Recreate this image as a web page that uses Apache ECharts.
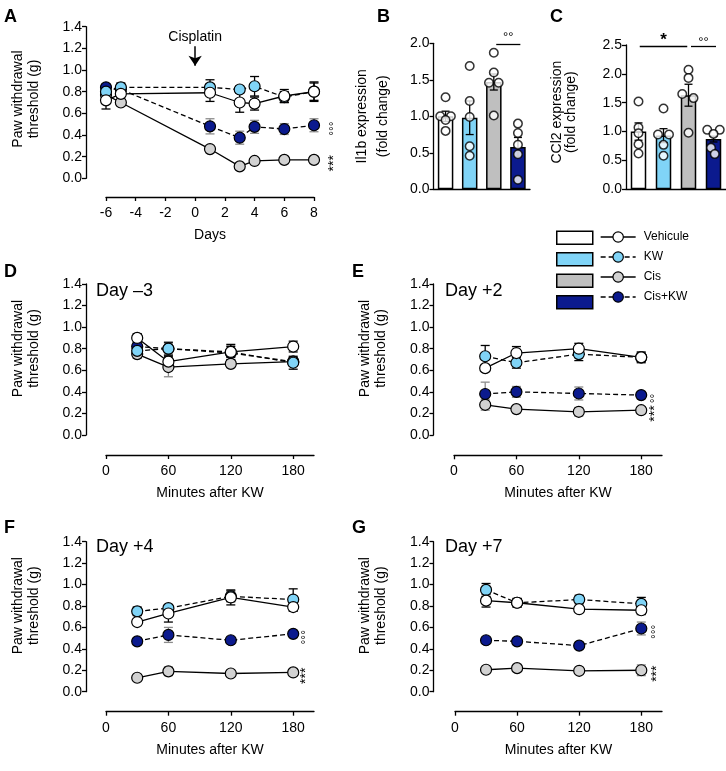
<!DOCTYPE html>
<html><head><meta charset="utf-8">
<script src="https://cdn.jsdelivr.net/npm/echarts@6/dist/echarts.min.js"></script>
<style>html,body{margin:0;padding:0;background:#fff}#c{width:726px;height:771px}</style>
</head><body><div id="c"></div>
<script>
const FONT = "'Liberation Sans', Arial, Helvetica, sans-serif";
const groups = ['Vehicule', 'KW', 'Cis', 'Cis+KW'];

// ---------- Panel A : time course (days) ----------
const daysA = [-6, -5, 1, 3, 4, 6, 8];
const aVehicule    = [0.72, 0.78, 0.79, 0.70, 0.69, 0.76, 0.80];
const aVehiculeSem = [0.08, 0.08, 0.08, 0.09, 0.06, 0.06, 0.09];
const aKW          = [0.80, 0.84, 0.84, 0.82, 0.85, 0.75, 0.80];
const aKWSem       = [0.04, 0.04, 0.07, 0.03, 0.09, 0.05, 0.08];
const aCis         = [0.77, 0.70, 0.27, 0.11, 0.16, 0.17, 0.17];
const aCisSem      = [0.03, 0.03, 0.02, 0.02, 0.02, 0.02, 0.03];
const aCisKW       = [0.84, 0.82, 0.48, 0.375, 0.475, 0.455, 0.49];
const aCisKWSem    = [0.03, 0.03, 0.07, 0.06, 0.06, 0.05, 0.06];
const cisplatinDay = 0;
const cisplatinArrow = [1.22, 1.04];

// ---------- Panel B : Il1b ----------
const bMeans = [1.00, 0.98, 1.47, 0.58];
const bSem   = [0.07, 0.23, 0.11, 0.13];
const bVehiculeDots = [1.26, 1.00, 1.00, 0.95, 0.80];
const bKWDots       = [1.69, 1.21, 0.99, 0.59, 0.46];
const bCisDots      = [1.87, 1.60, 1.46, 1.46, 1.01];
const bCisKWDots    = [0.90, 0.77, 0.61, 0.48, 0.13];
const bVehiculeJit  = [0, -0.22, 0.22, 0, 0];
const bKWJit        = [0, 0, 0, 0, 0];
const bCisJit       = [0, 0, -0.2, 0.2, 0];
const bCisKWJit     = [0, 0, 0, 0, 0];
const bSigStart = [2.1], bSigEnd = [3.1], bSigLevel = [1.99], bSigText = ['°°'];

// ---------- Panel C : Ccl2 ----------
const cMeans = [1.00, 0.93, 1.63, 0.87];
const cSem   = [0.15, 0.12, 0.19, 0.05];
const cVehiculeDots = [1.52, 1.07, 0.97, 0.78, 0.62];
const cKWDots       = [1.40, 0.95, 0.95, 0.77, 0.58];
const cCisDots      = [2.07, 1.93, 1.65, 1.58, 0.98];
const cCisKWDots    = [1.03, 1.03, 0.96, 0.72, 0.61];
const cVehiculeJit  = [0, 0, 0, 0, 0];
const cKWJit        = [0, -0.22, 0.22, 0, 0];
const cCisJit       = [0, 0, -0.25, 0.2, 0];
const cCisKWJit     = [-0.25, 0.25, 0, -0.1, 0.05];
const cSigStart = [0.05, 2.1], cSigEnd = [1.95, 3.1], cSigLevel = [2.48, 2.48], cSigText = ['*', '°°'];

// ---------- Panels D-G : minutes after KW ----------
const minutesKW = [30, 60, 120, 180];
const xTicksMin = [0, 60, 120, 180];
const dVehicule = [0.90, 0.68, 0.77, 0.82], dVehiculeSem = [0.04, 0.05, 0.07, 0.05];
const dKW       = [0.78, 0.80, 0.77, 0.67], dKWSem       = [0.04, 0.06, 0.05, 0.06];
const dCis      = [0.75, 0.63, 0.66, 0.68], dCisSem      = [0.04, 0.09, 0.03, 0.04];
const dCisKW    = [0.82, 0.80, 0.76, 0.68], dCisKWSem    = [0.03, 0.05, 0.07, 0.04];

const eVehicule = [0.62, 0.76, 0.80, 0.72], eVehiculeSem = [0.03, 0.06, 0.05, 0.05];
const eKW       = [0.73, 0.67, 0.75, 0.72], eKWSem       = [0.10, 0.05, 0.06, 0.04];
const eCis      = [0.28, 0.24, 0.215, 0.23], eCisSem     = [0.05, 0.02, 0.04, 0.03];
const eCisKW    = [0.38, 0.40, 0.385, 0.37], eCisKWSem   = [0.11, 0.05, 0.06, 0.02];

const fVehicule = [0.65, 0.73, 0.88, 0.79], fVehiculeSem = [0.03, 0.08, 0.07, 0.04];
const fKW       = [0.75, 0.78, 0.89, 0.86], fKWSem       = [0.04, 0.03, 0.05, 0.10];
const fCis      = [0.13, 0.19, 0.17, 0.18], fCisSem      = [0.02, 0.04, 0.02, 0.02];
const fCisKW    = [0.47, 0.53, 0.48, 0.54], fCisKWSem    = [0.02, 0.07, 0.02, 0.02];

const gVehicule = [0.85, 0.83, 0.77, 0.76], gVehiculeSem = [0.06, 0.04, 0.02, 0.04];
const gKW       = [0.95, 0.83, 0.86, 0.82], gKWSem       = [0.06, 0.04, 0.04, 0.06];
const gCis      = [0.205, 0.22, 0.195, 0.20], gCisSem    = [0.02, 0.02, 0.02, 0.05];
const gCisKW    = [0.48, 0.47, 0.43, 0.59], gCisKWSem    = [0.02, 0.02, 0.02, 0.06];

// ---------- styles ----------
const barColors   = ['#ffffff', '#80d4f7', '#bfbfbf', '#0b1a8e'];
const pointColors = ['#ffffff', '#80d4f7', '#d2d2d2', '#0b1a8e'];
const errColors   = ['#000000', '#000000', '#8c8c8c', '#8c8c8c'];
const lineTypes   = ['solid', [5, 3], 'solid', [5, 3]];
const axisLineStyle = { color: '#000', width: 1.3 };

const grids = [], xAxes = [], yAxes = [], series = [];

function errRender(color, cap) {
  return function (params, api) {
    const x = api.value(0), y = api.value(1), e = api.value(2);
    const p1 = api.coord([x, y + e]), p2 = api.coord([x, y - e]);
    const st = { stroke: color, lineWidth: 1.3, fill: null };
    return { type: 'group', children: [
      { type: 'line', shape: { x1: p1[0], y1: p1[1], x2: p2[0], y2: p2[1] }, style: st },
      { type: 'line', shape: { x1: p1[0] - cap, y1: p1[1], x2: p1[0] + cap, y2: p1[1] }, style: st },
      { type: 'line', shape: { x1: p2[0] - cap, y1: p2[1], x2: p2[0] + cap, y2: p2[1] }, style: st }
    ] };
  };
}

function yAxisCfg(g, max, interval, name, gap, lh, pad, offset) {
  return { gridIndex: g, type: 'value', min: 0, max: max, interval: interval, offset: offset,
    axisLine: { show: true, onZero: false, lineStyle: axisLineStyle },
    axisTick: { show: true, length: 4, lineStyle: axisLineStyle },
    axisLabel: { fontSize: 14, color: '#000', margin: 4, fontFamily: FONT, formatter: v => v.toFixed(1) },
    splitLine: { show: false },
    name: name, nameLocation: 'middle', nameRotate: 90, nameGap: gap,
    nameTextStyle: { fontSize: 14, color: '#000', fontFamily: FONT, lineHeight: lh, padding: [0, 0, 0, pad] } };
}

function timeXAxis(g, min, max, ticks, interval, name, offset) {
  const ax = { gridIndex: g, type: 'value', min: min, max: max, offset: offset,
    axisLine: { show: true, onZero: false, lineStyle: axisLineStyle },
    axisTick: { show: true, length: 4, lineStyle: axisLineStyle },
    axisLabel: { fontSize: 14, color: '#000', margin: 9, fontFamily: FONT },
    splitLine: { show: false },
    name: name, nameLocation: 'middle', nameGap: 31,
    nameTextStyle: { fontSize: 14, color: '#000', fontFamily: FONT } };
  if (ticks) { ax.axisTick.customValues = ticks; ax.axisLabel.customValues = ticks; }
  if (interval) ax.interval = interval;
  return ax;
}

function addTimeSeries(g, xs, vals, sems, notes) {
  const order = [3, 2, 1, 0];
  order.forEach(i => {
    series.push({ type: 'line', name: groups[i], xAxisIndex: g, yAxisIndex: g, z: 3, clip: false, silent: true,
      symbol: 'circle', symbolSize: 11, showAllSymbol: true, emphasis: { disabled: true },
      itemStyle: { color: pointColors[i], borderColor: '#000', borderWidth: 1.2 },
      lineStyle: { color: '#000', width: 1.3, type: lineTypes[i] },
      data: xs.map((x, k) => {
        const it = { value: [x, vals[i][k]] };
        if (k === xs.length - 1 && notes[i]) {
          it.label = { show: true, formatter: notes[i].text, position: [notes[i].dx + 10.5, 9.5],
            align: 'center', verticalAlign: 'middle', rotate: 90, fontSize: notes[i].size, color: '#000', fontFamily: FONT };
        }
        return it;
      }) });
  });
  order.forEach(i => {
    series.push({ type: 'custom', name: groups[i], xAxisIndex: g, yAxisIndex: g, z: 2, clip: false, silent: true,
      renderItem: errRender(errColors[i], 4.5), encode: { x: 0, y: 1 },
      data: xs.map((x, k) => [x, vals[i][k], sems[i][k]]) });
  });
}

function addBarPanel(g, vx, means, sems, dots, jit, sig) {
  series.push({ type: 'bar', name: 'bars' + g, xAxisIndex: g, yAxisIndex: g, barWidth: 15.5, z: 2, silent: true,
    itemStyle: { borderColor: '#000', borderWidth: 1.5 },
    data: means.map((v, i) => ({ value: v, itemStyle: { color: barColors[i] } })) });
  series.push({ type: 'custom', name: 'sem' + g, xAxisIndex: vx, yAxisIndex: g, z: 3, silent: true, clip: false,
    renderItem: errRender('#000', 4), encode: { x: 0, y: 1 },
    data: means.map((m, i) => [i, m, sems[i]]) });
  series.push({ type: 'scatter', name: 'dots' + g, xAxisIndex: vx, yAxisIndex: g, z: 4, silent: true,
    symbolSize: 8.5, itemStyle: { color: '#fff', borderColor: '#000', borderWidth: 1.5 },
    data: dots.flatMap((arr, i) => arr.map((v, k) => [i + jit[i][k], v])),
    markLine: { silent: true, symbol: ['none', 'none'], animation: false,
      lineStyle: { color: '#000', width: 1.3, type: 'solid' },
      label: { show: true, position: 'insideMiddleTop', distance: sig.dist, color: '#000', fontSize: 13, fontFamily: FONT },
      data: sig.start.map((s, j) => [
        { coord: [s, sig.level[j]], label: { formatter: sig.text[j], fontSize: sig.text[j] === '*' ? 17 : 13, fontWeight: sig.text[j] === '*' ? 'bold' : 'normal' } },
        { coord: [sig.end[j], sig.level[j]] }]) } });
}

// ---- grid 0: A ----
grids.push({ left: 106, top: 26.7, width: 208, height: 151.6 });
xAxes.push(timeXAxis(0, -6, 8, null, 2, 'Days', 18.7));
yAxes.push(yAxisCfg(0, 1.4, 0.2, 'Paw withdrawal\nthreshold (g)', 44, 16, 7, 20));
// ---- grid 1: B ----
grids.push({ left: 433.5, top: 43.3, width: 96.5, height: 146 });
xAxes.push({ gridIndex: 1, type: 'category', data: groups, axisLine: { show: true, onZero: false, lineStyle: axisLineStyle }, axisTick: { show: false }, axisLabel: { show: false } });
yAxes.push(yAxisCfg(1, 2.0, 0.5, 'Il1b expression\n(fold change)', 39.5, 21, 0, 0));
// ---- grid 2: C ----
grids.push({ left: 626, top: 45, width: 100, height: 144.3 });
xAxes.push({ gridIndex: 2, type: 'category', data: groups, axisLine: { show: true, onZero: false, lineStyle: axisLineStyle }, axisTick: { show: false }, axisLabel: { show: false } });
yAxes.push(yAxisCfg(2, 2.5, 0.5, 'CCl2 expression\n(fold change)', 48, 14, 10, 0));
// ---- grids 3-6: D, E, F, G ----
const minuteRects = [
  { left: 106, top: 284, width: 208, height: 151, yo: 20, xo: 20 },
  { left: 454, top: 284, width: 208, height: 151, yo: 20.5, xo: 20.3 },
  { left: 106, top: 541.7, width: 208, height: 150, yo: 20, xo: 20 },
  { left: 455, top: 541.7, width: 207, height: 150, yo: 21.5, xo: 20 }
];
minuteRects.forEach((r, j) => {
  const g = 3 + j;
  grids.push({ left: r.left, top: r.top, width: r.width, height: r.height });
  xAxes.push(timeXAxis(g, 0, 200, xTicksMin, null, 'Minutes after KW', r.xo));
  yAxes.push(yAxisCfg(g, 1.4, 0.2, 'Paw withdrawal\nthreshold (g)', 44, 16, 22, r.yo));
});
// hidden value x axes for dots in B (7) and C (8)
xAxes.push({ gridIndex: 1, type: 'value', min: -0.5, max: 3.5, show: false });
xAxes.push({ gridIndex: 2, type: 'value', min: -0.5, max: 3.5, show: false });
grids.forEach(gr => { gr.outerBoundsMode = 'none'; gr.containLabel = false; });

// ---- series ----
addTimeSeries(0, daysA, [aVehicule, aKW, aCis, aCisKW], [aVehiculeSem, aKWSem, aCisSem, aCisKWSem],
  { 2: { text: '***', dx: 16, size: 14 }, 3: { text: '°°°', dx: 16, size: 12 } });
series[0].markLine = { silent: true, animation: false, symbol: ['none', 'arrow'], symbolSize: 10,
  lineStyle: { color: '#000', width: 1.5, type: 'solid' },
  label: { show: true, position: 'start', formatter: 'Cisplatin', fontSize: 14, color: '#000', distance: 2, fontFamily: FONT },
  data: [[{ coord: [cisplatinDay, cisplatinArrow[0]] }, { coord: [cisplatinDay, cisplatinArrow[1]] }]] };

addBarPanel(1, 7, bMeans, bSem, [bVehiculeDots, bKWDots, bCisDots, bCisKWDots], [bVehiculeJit, bKWJit, bCisJit, bCisKWJit],
  { start: bSigStart, end: bSigEnd, level: bSigLevel, text: bSigText, dist: 0 });
addBarPanel(2, 8, cMeans, cSem, [cVehiculeDots, cKWDots, cCisDots, cCisKWDots], [cVehiculeJit, cKWJit, cCisJit, cCisKWJit],
  { start: cSigStart, end: cSigEnd, level: cSigLevel, text: cSigText, dist: -3 });

addTimeSeries(3, minutesKW, [dVehicule, dKW, dCis, dCisKW], [dVehiculeSem, dKWSem, dCisSem, dCisKWSem], {});
addTimeSeries(4, minutesKW, [eVehicule, eKW, eCis, eCisKW], [eVehiculeSem, eKWSem, eCisSem, eCisKWSem],
  { 2: { text: '***', dx: 10, size: 14 }, 3: { text: '°°', dx: 10, size: 12 } });
addTimeSeries(5, minutesKW, [fVehicule, fKW, fCis, fCisKW], [fVehiculeSem, fKWSem, fCisSem, fCisKWSem],
  { 2: { text: '***', dx: 9, size: 14 }, 3: { text: '°°°', dx: 9, size: 12 } });
addTimeSeries(6, minutesKW, [gVehicule, gKW, gCis, gCisKW], [gVehiculeSem, gKWSem, gCisSem, gCisKWSem],
  { 2: { text: '***', dx: 11, size: 14 }, 3: { text: '°°°', dx: 11, size: 12 } });

const letterStyle = { fontSize: 18, fontWeight: 'bold', color: '#000', fontFamily: FONT };
const dayStyle = { fontSize: 18, fontWeight: 'normal', color: '#000', fontFamily: FONT };
const titles = [
  { text: 'A', left: 4, top: 8, textStyle: letterStyle },
  { text: 'B', left: 377, top: 8, textStyle: letterStyle },
  { text: 'C', left: 550, top: 8, textStyle: letterStyle },
  { text: 'D', left: 4, top: 263, textStyle: letterStyle },
  { text: 'E', left: 352, top: 263, textStyle: letterStyle },
  { text: 'F', left: 4, top: 519, textStyle: letterStyle },
  { text: 'G', left: 352, top: 519, textStyle: letterStyle },
  { text: 'Day –3', left: 96, top: 282, textStyle: dayStyle },
  { text: 'Day +2', left: 445, top: 282, textStyle: dayStyle },
  { text: 'Day +4', left: 96, top: 538, textStyle: dayStyle },
  { text: 'Day +7', left: 445, top: 538, textStyle: dayStyle }
].map(t => Object.assign({ padding: 0 }, t));

const legendText = { fontSize: 12, lineHeight: 13, color: '#000', fontFamily: FONT, padding: [0, 0, 0, 3] };
const option = {
  animation: false,
  textStyle: { fontFamily: FONT },
  title: titles,
  legend: [
    { orient: 'vertical', left: 556, top: 230.5, itemWidth: 36, itemHeight: 13, itemGap: 7.0, padding: 0,
      selectedMode: false, formatter: () => ' ', textStyle: legendText,
      data: groups.map((n, i) => ({ name: n, icon: 'rect', itemStyle: { color: barColors[i], borderColor: '#000', borderWidth: 1.5 } })) },
    { orient: 'vertical', left: 600, top: 230.5, itemWidth: 35, itemHeight: 13, itemGap: 7.0, padding: 0,
      selectedMode: false, textStyle: legendText,
      itemStyle: { borderWidth: 1.2 }, lineStyle: { width: 1.3 },
      data: groups }
  ],
  grid: grids, xAxis: xAxes, yAxis: yAxes, series: series
};
const chart = echarts.init(document.getElementById('c'), null, { renderer: 'canvas' });
chart.setOption(option);
</script></body></html>
